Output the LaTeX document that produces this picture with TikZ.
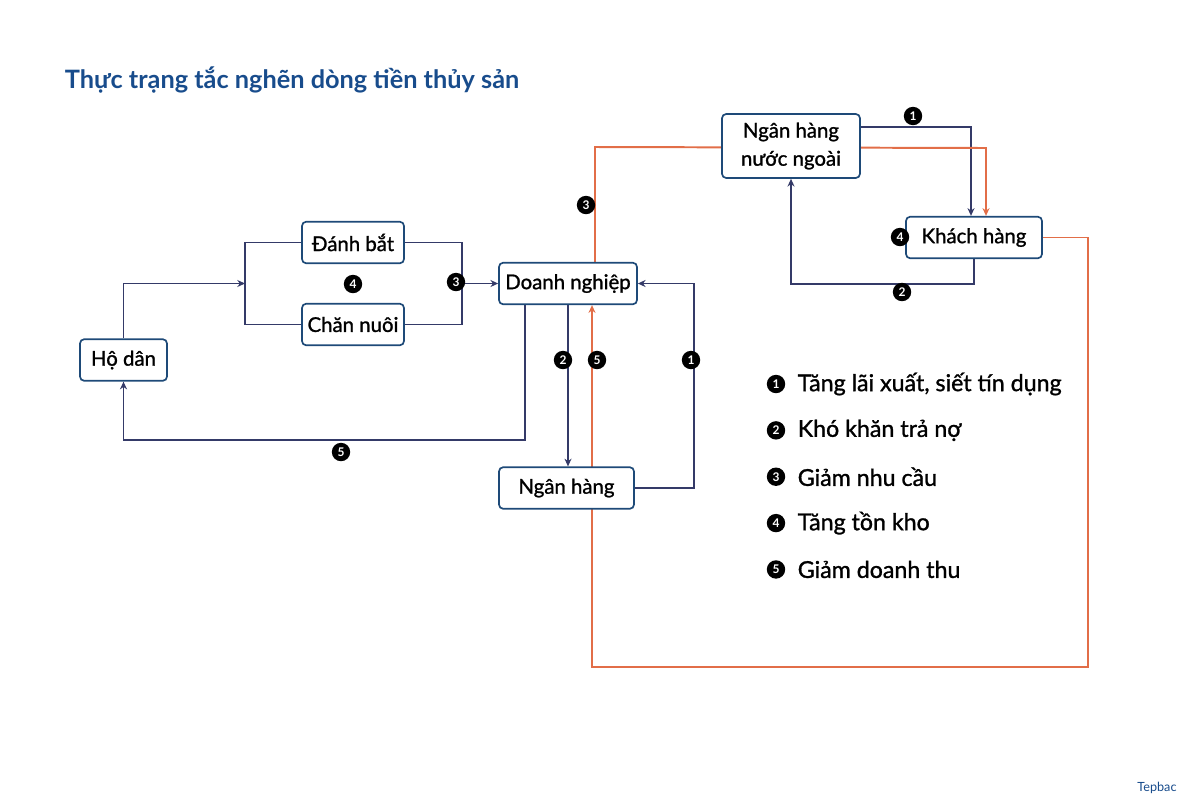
\documentclass[tikz,border=0pt]{standalone}
\usepackage{fontspec}
\setmainfont{Lato}
\newfontfamily\medfont{Lato}[FakeBold=1.2]
\usetikzlibrary{positioning,arrows.meta,backgrounds}
\definecolor{tepblue}{RGB}{24,76,140}
\definecolor{boxblue}{RGB}{30,74,120}
\definecolor{linenavy}{RGB}{52,58,104}
\definecolor{flowred}{RGB}{226,110,72}

\tikzset{
    box/.style={draw=boxblue, line width=1.2pt, rounded corners=3pt, fill=white, align=center, minimum height=10.4mm, font=\medfont\fontsize{14.5}{17}\selectfont},
    badge/.style={circle, fill=black, text=white, inner sep=0pt, minimum size=4.6mm, font=\fontsize{8.5}{8}\selectfont\bfseries},
    legendtext/.style={anchor=west, inner sep=0pt, font=\medfont\fontsize{16.5}{18}\selectfont},
    navyline/.style={draw=linenavy, line width=1.4pt},
    redline/.style={draw=flowred, line width=1.4pt},
    flow/.style={-{Stealth[length=5.5pt,width=5pt]}},
}

\begin{document}
\begin{tikzpicture}[x=0.25mm, y=-0.25mm]
    \useasboundingbox (0,0) rectangle (1200,800);
        % Add title
        \node[anchor=west, text=tepblue, font=\fontsize{18}{20}\selectfont\bfseries] (title) at (60,80) {Thực trạng tắc nghẽn dòng tiền thủy sản};

        \node[box, minimum width=21.75mm] (hodan) at (123.5,360) {Hộ dân};
        \node[box, minimum width=25.5mm] (danhbat) at (353,242.5) {Đánh bắt};
        \node[box, minimum width=25.5mm] (channuoi) at (353,324.5) {Chăn nuôi};
        \node[box, minimum width=34.5mm] (doanhnghiep) at (568,283.5) {Doanh nghiệp};
        \node[box, minimum width=33.75mm] (nganhang) at (566.5,488) {Ngân hàng};
        \node[box, minimum width=34.5mm, minimum height=16mm, font=\medfont\fontsize{14.5}{20}\selectfont] (nhnn) at (791,146) {Ngân hàng\\nước ngoài};
        \node[box, minimum width=34mm] (khachhang) at (974,237.5) {Khách hàng};

        \coordinate (bl) at (245,283.5);
        \coordinate (br) at (462,283.5);
        \coordinate (c5) at (525,440);
        \coordinate (c1) at (694,400);
        \coordinate (c3) at (595,147);
        \coordinate (n1) at (971,127);
        \coordinate (n3) at (986,148);
        \coordinate (r1) at (1088,667);
        \coordinate (r2) at (592,667);

        \begin{scope}[on background layer]
        \draw[navyline, flow] (hodan.north) |- (bl);
        \draw[navyline] (danhbat.west) -| (bl) |- (channuoi.west);
        \draw[navyline] (danhbat.east) -| (br) |- (channuoi.east);
        \draw[navyline, flow] (br) -- (doanhnghiep.west);
        \draw[navyline, flow] (doanhnghiep.south -| c5) -- (c5) -| (hodan.south);
        \draw[navyline, flow] (doanhnghiep.south) -- (doanhnghiep.south |- nganhang.north);
        \draw[navyline, flow] (nganhang.east) -| (c1) |- (doanhnghiep.east);
        \draw[navyline, flow] (nhnn.east |- n1) -- (n1) -- (n1 |- khachhang.north);
        \draw[navyline, flow] (khachhang.south) -- ++(0,25) -| (nhnn.south);
        \draw[redline, flow] (doanhnghiep.north -| c3) -- (c3) -- (n3) -- (n3 |- khachhang.north);
        \draw[redline, flow] (khachhang.east) -| (r1) -- (r2) -- (r2 |- doanhnghiep.south);
        \end{scope}

        % numbers on the flows
        \node[badge] (b3a) at (456,282) {3};
        \node[badge] (b4a) at (353,284) {4};
        \node[badge] (b5a) at (341,452) {5};
        \node[badge] (b2a) at (563,360) {2};
        \node[badge] (b5b) at (597,360) {5};
        \node[badge] (b1a) at (691,360) {1};
        \node[badge] (b3b) at (586,205) {3};
        \node[badge] (b1b) at (913,116) {1};
        \node[badge] (b2b) at (902,292) {2};
        \node[badge] (b4b) at (900,237) {4};

        % legend
        \node[badge] (l1) at (776,384) {1};
        \node[badge, below=6.85mm of l1] (l2) {2};
        \node[badge, below=6.85mm of l2] (l3) {3};
        \node[badge, below=6.85mm of l3] (l4) {4};
        \node[badge, below=6.85mm of l4] (l5) {5};
        \node[legendtext, right=3mm of l1] (t1) {Tăng lãi xuất, siết tín dụng};
        \node[legendtext, right=3mm of l2] (t2) {Khó khăn trả nợ};
        \node[legendtext, right=3mm of l3] (t3) {Giảm nhu cầu};
        \node[legendtext, right=3mm of l4] (t4) {Tăng tồn kho};
        \node[legendtext, right=3mm of l5] (t5) {Giảm doanh thu};

        \node[text=tepblue, font=\fontsize{9}{9}\selectfont] (logo) at (1157,788) {Tepbac};
    \end{tikzpicture}
\end{document}
